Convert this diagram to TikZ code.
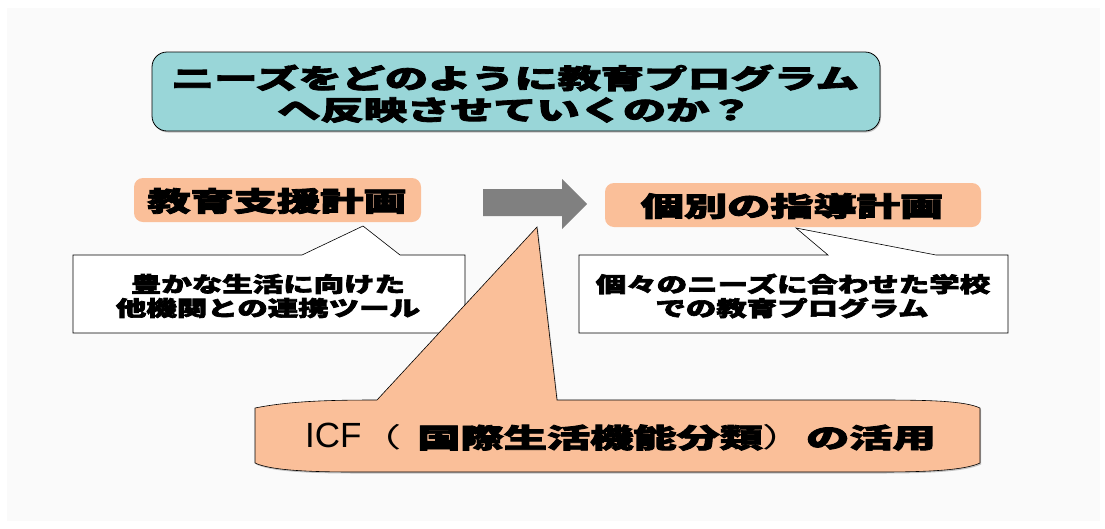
\documentclass[tikz,border=0pt]{standalone}
\usepackage{graphicx}
\usepackage{fontspec}
\newfontfamily\jp{Noto Sans CJK JP}[BoldFeatures={FakeBold=3}]
\newfontfamily\arialf{Liberation Sans}
\usetikzlibrary{shadows}
\definecolor{tealbox}{RGB}{153,214,216}
\definecolor{peach}{RGB}{250,191,153}
\definecolor{arrowgray}{RGB}{128,128,128}
\definecolor{bgray}{RGB}{250,250,250}
\newcommand{\stretchtxt}[2]{\scalebox{#1}[1]{#2}}
\tikzset{
  bigtxt/.style={font=\jp\bfseries\fontsize{27}{27}\selectfont, inner sep=0pt, text=black},
  smalltxt/.style={font=\jp\bfseries\fontsize{21}{21}\selectfont, inner sep=0pt, text=black},
  peachbox/.style={fill=peach, rounded corners=9pt},
  calloutbox/.style={draw=black, fill=white, line width=0.6pt, line join=miter},
  softshadow/.style={drop shadow={shadow xshift=1pt, shadow yshift=-1.5pt, opacity=0.45}}
}
\begin{document}
\begin{tikzpicture}[x=1pt,y=-1pt]
\fill[white] (0,0) rectangle (1105,528);
\fill[bgray] (7,8) rectangle (1100,521);
\useasboundingbox (0,0) rectangle (1105,528);

% title
\draw[fill=tealbox, rounded corners=15pt, line width=0.8pt, softshadow] (152,52) rectangle (880,131);
\node[bigtxt] (t1) at (515,78) {\stretchtxt{1.6}{ニーズをどのように教育プログラム}};
\node[bigtxt] (t2) at (515,110) {\stretchtxt{1.6}{へ反映させていくのか？}};

% orange boxes
\fill[peachbox] (134,178) rectangle (421,222);
\node[bigtxt] (left) at (277,201) {\stretchtxt{1.6}{教育支援計画}};
\fill[peachbox] (605,183) rectangle (981,227);
\node[bigtxt] (right) at (792,206) {\stretchtxt{1.6}{個別の指導計画}};

% block arrow
\fill[arrowgray] (483,189) -- (562,189) -- (562,179) -- (587,204) -- (562,229) -- (562,216) -- (483,216) -- cycle;

% left callout
\draw[calloutbox] (73,255) -- (302,255) -- (363,226) -- (400,255) -- (465,255) -- (465,333) -- (73,333) -- cycle;
\node[smalltxt] (l1) at (268,284) {\stretchtxt{1.45}{豊かな生活に向けた}};
\node[smalltxt] (l2) at (268,308) {\stretchtxt{1.45}{他機関との連携ツール}};

% right callout
\draw[calloutbox] (579,255) -- (828,255) -- (796,228) -- (936,255) -- (1008,255) -- (1008,333) -- (579,333) -- cycle;
\node[smalltxt] (r1) at (793,284) {\stretchtxt{1.45}{個々のニーズに合わせた学校}};
\node[smalltxt] (r2) at (792,308) {\stretchtxt{1.45}{での教育プログラム}};

% ICF callout
\draw[fill=peach, line width=0.6pt, line join=miter, softshadow]
  (255,408) .. controls (290,401) and (330,400) .. (377,400)
  -- (537,227) -- (557,400) -- (880,400)
  .. controls (930,400) and (965,401) .. (980,408)
  -- (980,463)
  .. controls (965,470) and (930,472) .. (880,472)
  -- (355,472)
  .. controls (305,472) and (270,470) .. (255,463) -- cycle;
\node[bigtxt, anchor=west] (icf) at (305,437) {{\arialf\mdseries\fontsize{35}{35}\selectfont ICF}\hspace{12.6pt}\stretchtxt{1.6}{{\mdseries\hspace*{-10pt}（\hspace{10pt}}国際生活機能分類{\mdseries ）}の活用}};
\end{tikzpicture}
\end{document}
